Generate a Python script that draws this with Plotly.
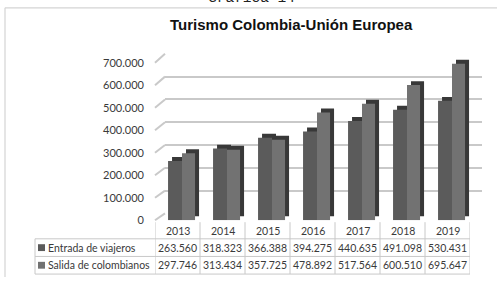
import plotly.graph_objects as go

# ---------------- data ----------------
years = ["2013", "2014", "2015", "2016", "2017", "2018", "2019"]
series_names = ["Entrada de viajeros", "Salida de colombianos"]
entrada = [263560, 318323, 366388, 394275, 440635, 491098, 530431]
salida = [297746, 313434, 357725, 478892, 517564, 600510, 695647]
y_ticks = [0, 100000, 200000, 300000, 400000, 500000, 600000, 700000]
title_text = "Turismo Colombia-Unión Europea"
caption_text = "Gráfica 14"

# ---------------- geometry helpers (pixels -> paper) ----------------
W, H = 497, 283
def px(x):
    return x / W
def py(y):
    return 1 - y / H

YMAX = 700000
FRONT_X = (155, 470)          # pixel extent of category columns
FRONT_Y0, FRONT_YT = 225, 64  # pixel of value 0 and 700.000 (front)
BACK_X = (165, 482)
BACK_Y0, BACK_YT = 218, 55    # back wall gridlines

front_scale = (FRONT_Y0 - FRONT_YT) / YMAX
front_top_val = 760000
back_lo, back_hi = -4000, 704000
back_scale = (BACK_Y0 - BACK_YT) / YMAX

def front_pix(v):
    return FRONT_Y0 - v * front_scale
def back_pix(v):
    return BACK_Y0 - v * back_scale

colors_front = ["#5b5b5b", "#727272"]
color_depth = "#383838"
grid_color = "#c9c9c9"
line_color = "#c8c8c8"
text_color = "#3a3a3a"
font_fam = "Lato, 'Open Sans', sans-serif"

# bar geometry in category units (1 category = 45 px)
offsets = [-0.21, 0.10]
widths = [0.31, 0.29]
dx = 4 / 45.0
dy = 4 / front_scale

xs = list(range(len(years)))

fig = go.Figure()

# invisible trace for back-wall subplot
fig.add_trace(go.Scatter(x=[0], y=[0], mode="markers", marker=dict(opacity=0),
                         showlegend=False, hoverinfo="skip", xaxis="x", yaxis="y"))

for k, vals in enumerate([entrada, salida]):
    # depth (top + side faces)
    fig.add_trace(go.Bar(
        x=xs, y=vals, base=[dy] * len(vals),
        offset=offsets[k] + dx, width=widths[k],
        marker=dict(color=color_depth, line=dict(width=0)),
        showlegend=False, hoverinfo="skip", xaxis="x2", yaxis="y2"))
    # front face
    fig.add_trace(go.Bar(
        x=xs, y=vals, name=series_names[k],
        offset=offsets[k], width=widths[k],
        marker=dict(color=colors_front[k], line=dict(width=0)),
        showlegend=False, xaxis="x2", yaxis="y2"))

shapes = []
annotations = []

# left wall slanted lines
for v in y_ticks:
    shapes.append(dict(type="line", xref="paper", yref="paper",
                       x0=px(FRONT_X[0]), y0=py(front_pix(v)),
                       x1=px(BACK_X[0]), y1=py(back_pix(v)),
                       line=dict(color=grid_color, width=2)))

# chart border (left and top edges only; the rest is outside the picture)
shapes.append(dict(type="line", xref="paper", yref="paper",
                   x0=px(5), y0=py(8), x1=px(5), y1=0,
                   line=dict(color="#d4d4d4", width=1.2), layer="below"))
shapes.append(dict(type="line", xref="paper", yref="paper",
                   x0=px(5), y0=py(8), x1=1, y1=py(8),
                   line=dict(color="#d4d4d4", width=1.2), layer="below"))

# data table
T_TOP, R1, R2, T_BOT = 227, 244, 262, 280
T_LEFT = 35
for i in range(len(years) + 1):
    shapes.append(dict(type="line", xref="x2", yref="paper",
                       x0=i - 0.5, x1=i - 0.5, y0=py(T_TOP), y1=py(T_BOT),
                       line=dict(color=line_color, width=1)))
shapes.append(dict(type="line", xref="paper", yref="paper",
                   x0=px(T_LEFT), x1=px(T_LEFT), y0=py(R1), y1=py(T_BOT),
                   line=dict(color=line_color, width=1)))
for yy in [R1, R2, T_BOT]:
    shapes.append(dict(type="line", xref="paper", yref="paper",
                       x0=px(T_LEFT), x1=px(FRONT_X[1]), y0=py(yy), y1=py(yy),
                       line=dict(color=line_color, width=1)))

tfont = dict(family=font_fam, size=10.5, color=text_color)
for i, yr in enumerate(years):
    annotations.append(dict(text=yr, xref="x2", yref="paper", x=i, y=py((T_TOP + R1) / 2 + 1),
                            showarrow=False, font=tfont, xanchor="center", yanchor="middle"))

def fmt(v):
    return f"{v:,}".replace(",", ".")

row_centers = [(R1 + R2) / 2, (R2 + T_BOT) / 2]
for k, vals in enumerate([entrada, salida]):
    yc = row_centers[k]
    for i, v in enumerate(vals):
        annotations.append(dict(text=fmt(v), xref="x2", yref="paper", x=i, y=py(yc),
                                showarrow=False, font=tfont, xanchor="center", yanchor="middle"))
    annotations.append(dict(text=series_names[k], xref="paper", yref="paper", x=px(46), y=py(yc),
                            showarrow=False, font=tfont, xanchor="left", yanchor="middle"))
    shapes.append(dict(type="rect", xref="paper", yref="paper",
                       x0=px(38), x1=px(45), y0=py(yc + 3.5), y1=py(yc - 3.5),
                       fillcolor=colors_front[k], line=dict(width=0)))

# title and caption
annotations.append(dict(text="<b>" + title_text + "</b>", xref="paper", yref="paper",
                        x=px(291), y=py(25), showarrow=False, xanchor="center", yanchor="middle",
                        font=dict(family="Liberation Sans, Arial, sans-serif", size=15, color="#111")))
annotations.append(dict(text=caption_text, xref="paper", yref="paper",
                        x=px(251), y=py(8), showarrow=False, xanchor="center", yanchor="bottom",
                        font=dict(family="Liberation Mono, Courier New, monospace", size=14.5, color="#222")))

fig.update_layout(
    width=W, height=H,
    margin=dict(l=0, r=0, t=0, b=0),
    paper_bgcolor="white", plot_bgcolor="rgba(0,0,0,0)",
    separators=",.",
    barmode="overlay",
    showlegend=False,
    xaxis=dict(domain=[px(BACK_X[0]), px(BACK_X[1])], range=[0, 1], visible=False, anchor="y"),
    yaxis=dict(domain=[py(back_pix(back_lo)), py(back_pix(back_hi))], range=[back_lo, back_hi],
               tickvals=y_ticks, showgrid=True, gridcolor=grid_color, gridwidth=2,
               showticklabels=False, zeroline=False, showline=False, anchor="x"),
    xaxis2=dict(domain=[px(FRONT_X[0]), px(FRONT_X[1])], range=[-0.5, len(years) - 0.5],
                visible=False, anchor="y2"),
    yaxis2=dict(domain=[py(front_pix(0)), py(front_pix(front_top_val))], range=[0, front_top_val],
                tickvals=y_ticks, tickformat=",.0f", showgrid=False, zeroline=False,
                showline=False, ticks="", ticklabelstandoff=10,
                tickfont=dict(family=font_fam, size=11, color=text_color), anchor="x2"),
    shapes=shapes,
    annotations=annotations,
)

fig.write_html(
    "out.html",
    config={"displayModeBar": False},
    post_script=("document.body.style.margin='0';document.body.style.padding='0';"
                 "document.body.style.overflow='hidden';"
                 "document.documentElement.style.overflow='hidden';"),
)
